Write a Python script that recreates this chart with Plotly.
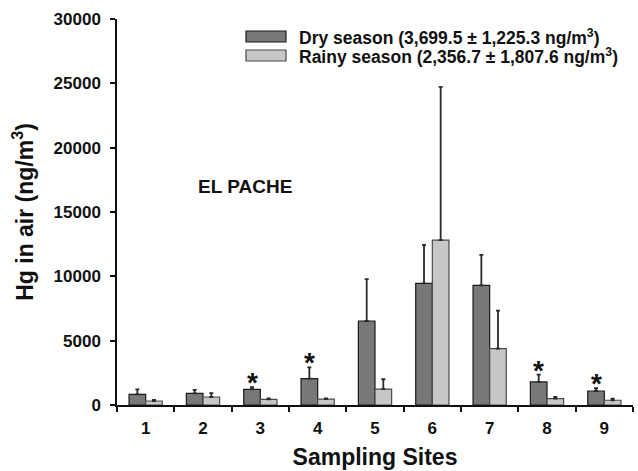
import plotly.graph_objects as go

# ---- data ----
sites = ["1", "2", "3", "4", "5", "6", "7", "8", "9"]
dry_mean = [830, 910, 1220, 2050, 6530, 9460, 9300, 1790, 1090]
dry_sd = [390, 260, 160, 880, 3260, 2980, 2360, 570, 210]
rainy_mean = [310, 620, 440, 450, 1240, 12820, 4380, 490, 370]
rainy_sd = [80, 310, 80, 70, 760, 11900, 2950, 130, 120]
significant = [False, False, True, True, False, False, False, True, True]

dry_label = "Dry season (3,699.5 \u00b1 1,225.3 ng/m<sup>3</sup>)"
rainy_label = "Rainy season (2,356.7 \u00b1 1,807.6 ng/m<sup>3</sup>)"
site_name = "EL PACHE"
y_ticks = [0, 5000, 10000, 15000, 20000, 25000, 30000]

# ---- style ----
W, H = 638, 471
ML, MR, MT, MB = 117, 5, 19, 66
PW, PH = W - ML - MR, H - MT - MB
FONT = "Liberation Sans, Arial, Helvetica, sans-serif"
DRY_COLOR = "#787878"
RAINY_COLOR = "#c6c7c6"
BARGAP = 0.42


def px_x(x):
    return (x - ML) / PW


def px_y(y):
    return 1 - (y - MT) / PH


fig = go.Figure()
fig.add_trace(go.Bar(
    x=sites, y=dry_mean, name="Dry season",
    marker=dict(color=DRY_COLOR, line=dict(color="#1a1a1a", width=1.2)),
    error_y=dict(type="data", array=dry_sd, arrayminus=[0] * len(sites),
                 symmetric=False, color="#2a2a2a", thickness=1.8, width=2),
))
fig.add_trace(go.Bar(
    x=sites, y=rainy_mean, name="Rainy season",
    marker=dict(color=RAINY_COLOR, line=dict(color="#4a4a4a", width=1.2)),
    error_y=dict(type="data", array=rainy_sd, arrayminus=[0] * len(sites),
                 symmetric=False, color="#2a2a2a", thickness=1.8, width=2),
))

# significance stars above dry-season bars
half = (1 - BARGAP) / 4
annotations = []
for i, sig in enumerate(significant):
    if sig:
        annotations.append(dict(
            x=i - half, y=dry_mean[i] + dry_sd[i], xref="x", yref="y",
            text="<b>*</b>", showarrow=False, yanchor="bottom",
            yshift=-13, font=dict(family=FONT, size=28, color="#111"),
        ))

annotations.append(dict(
    x=px_x(196), y=px_y(186), xref="paper", yref="paper",
    xanchor="left", yanchor="middle",
    text="<b>" + site_name + "</b>", showarrow=False,
    font=dict(family=FONT, size=19, color="#111"),
))

# manual legend
shapes = []
for row, (lab, col, lc) in enumerate([(dry_label, DRY_COLOR, "#1a1a1a"),
                                       (rainy_label, RAINY_COLOR, "#4a4a4a")]):
    y0 = 31 + row * 19
    shapes.append(dict(type="rect", xref="paper", yref="paper",
                       x0=px_x(246), x1=px_x(286), y0=px_y(y0), y1=px_y(y0 + 11),
                       fillcolor=col, line=dict(color=lc, width=1.2)))
    annotations.append(dict(
        x=px_x(297), y=px_y(y0 + 5.5), xref="paper", yref="paper",
        xanchor="left", yanchor="middle", showarrow=False,
        text="<b>" + lab + "</b>",
        font=dict(family=FONT, size=17.5, color="#111"),
    ))

fig.update_layout(
    width=W, height=H,
    margin=dict(l=ML, r=MR, t=MT, b=MB, autoexpand=False),
    paper_bgcolor="white", plot_bgcolor="white",
    barmode="group", bargap=BARGAP, bargroupgap=0,
    showlegend=False,
    font=dict(family=FONT, color="#111"),
    annotations=annotations, shapes=shapes,
)
fig.update_xaxes(
    type="category", tickson="boundaries", ticks="outside", ticklen=5,
    tickwidth=1.5, tickcolor="#111", showline=True, linecolor="#111",
    linewidth=1.5, showgrid=False, zeroline=False,
    ticklabelstandoff=7,
    tickfont=dict(family=FONT, size=17, weight="bold"),
    title=dict(text="<b>Sampling Sites</b>", standoff=12,
               font=dict(family=FONT, size=23)),
)
fig.update_yaxes(
    range=[0, 30000], tickmode="array", tickvals=y_ticks,
    ticktext=[str(v) for v in y_ticks],
    ticks="outside", ticklen=5, tickwidth=1.5, tickcolor="#111",
    showline=True, linecolor="#111", linewidth=1.5, showgrid=False,
    zeroline=False, ticklabelstandoff=6,
    tickfont=dict(family=FONT, size=17, weight="bold"),
    title=dict(text="<b>Hg in air (ng/m<sup>3</sup>)</b>", standoff=14,
               font=dict(family=FONT, size=23)),
)

# remove the browser's default 8px page margin so the figure sits at (0, 0)
fig.write_html("out.html", config={"displayModeBar": False},
               post_script="document.body.style.margin='0';")
